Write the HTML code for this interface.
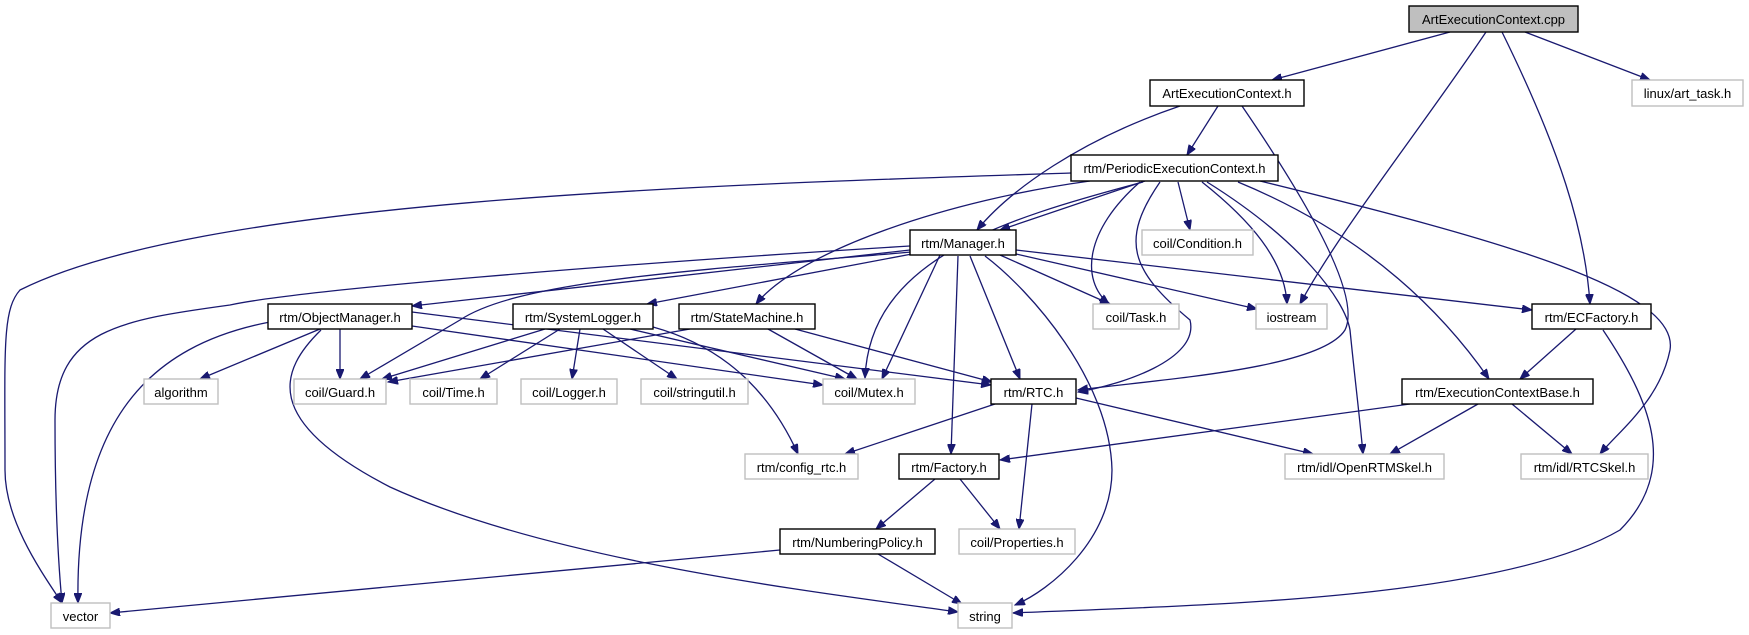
<!DOCTYPE html>
<html><head><meta charset="utf-8"><style>
html,body{margin:0;padding:0;background:#fff;}
svg{display:block;}
text{font-family:"Liberation Sans",Helvetica,Arial,sans-serif;font-size:13px;fill:#000;}
.b rect{fill:#fff;stroke:#000;stroke-width:1.4;}
.g rect{fill:#fff;stroke:#bfbfbf;stroke-width:1.4;}
path{fill:none;stroke:#191970;stroke-width:1.3;}
</style></head><body>
<svg width="1749" height="635" viewBox="0 0 1749 635" xmlns="http://www.w3.org/2000/svg">
<defs>
<marker id="a" markerWidth="11" markerHeight="8" refX="10" refY="4" orient="auto" markerUnits="userSpaceOnUse">
<path d="M0,0 L10,4 L0,8 Z" style="fill:#191970;stroke:#191970;stroke-width:1"/>
</marker>
</defs>
<g marker-end="url(#a)">
<!-- cpp -->
<path d="M1450,32 L1272,80"/>
<path d="M1486,32 C1420,130 1340,230 1300,304"/>
<path d="M1502,32 C1560,150 1585,230 1590,304"/>
<path d="M1525,32 L1650,80"/>
<!-- AEC.h -->
<path d="M1180,106 C1080,140 1010,190 977,230"/>
<path d="M1218,106 L1187,155"/>
<path d="M1242,106 C1320,220 1360,300 1345,330 C1320,370 1150,380 1078,390"/>
<!-- PEC -->
<path d="M1071,173 C700,185 200,200 20,290 C2,310 5,350 5,470 C5,520 40,570 62,603"/>
<path d="M1145,181 L1000,230"/>
<path d="M1090,181 C950,200 800,250 756,304"/>
<path d="M1143,182 C1000,220 870,260 865,378"/>
<path d="M1140,182 C1085,230 1080,280 1109,304"/>
<path d="M1160,182 C1120,240 1130,270 1190,320 C1200,360 1120,385 1078,392"/>
<path d="M1178,182 L1190,230"/>
<path d="M1202,182 C1250,220 1285,260 1287,304"/>
<path d="M1207,182 C1300,240 1345,300 1350,330 C1355,380 1360,420 1363,454"/>
<path d="M1238,182 C1330,220 1420,280 1489,379"/>
<path d="M1260,181 C1500,240 1680,290 1670,350 C1660,400 1620,430 1600,454"/>
<!-- Manager -->
<path d="M910,246 C600,265 300,290 230,305 C120,320 55,330 55,420 C55,500 58,560 62,603"/>
<path d="M910,250 L412,306"/>
<path d="M912,254 L647,304"/>
<path d="M912,252 C700,270 520,280 460,320 L360,379"/>
<path d="M940,255 L882,379"/>
<path d="M958,256 L951,454"/>
<path d="M970,256 L1020,379"/>
<path d="M985,256 C1030,290 1110,380 1112,470 C1112,540 1050,590 1015,605"/>
<path d="M1000,255 L1110,304"/>
<path d="M1016,254 L1257,309"/>
<path d="M1016,250 L1532,310"/>
<!-- ObjectManager -->
<path d="M320,329 L200,379"/>
<path d="M340,329 L340,379"/>
<path d="M270,322 C150,345 75,420 78,603"/>
<path d="M321,330 C280,370 260,420 390,487 C550,560 800,590 958,612"/>
<path d="M412,326 L823,385"/>
<path d="M412,312 L991,385"/>
<!-- SystemLogger -->
<path d="M545,329 L382,379"/>
<path d="M560,329 L480,379"/>
<path d="M580,329 L572,379"/>
<path d="M603,329 L677,379"/>
<path d="M630,329 L845,379"/>
<path d="M653,327 C700,340 760,370 798,454"/>
<!-- StateMachine -->
<path d="M690,329 L388,382"/>
<path d="M768,329 L857,379"/>
<path d="M795,329 L992,382"/>
<!-- RTC -->
<path d="M995,404 L845,454"/>
<path d="M1032,404 L1019,529"/>
<path d="M1076,398 L1313,454"/>
<!-- ECFactory -->
<path d="M1576,329 L1520,379"/>
<path d="M1603,330 C1650,400 1680,470 1620,530 C1500,600 1200,605 1013,613"/>
<!-- ECBase -->
<path d="M1410,404 L1000,460"/>
<path d="M1478,404 L1390,454"/>
<path d="M1512,404 L1572,454"/>
<!-- Factory -->
<path d="M935,479 L876,529"/>
<path d="M960,479 L1000,529"/>
<!-- NumberingPolicy -->
<path d="M780,550 L110,613"/>
<path d="M878,554 L962,604"/>
</g>
<!-- nodes -->
<g text-anchor="middle">
<rect x="1409" y="6" width="169" height="26" style="fill:#bfbfbf;stroke:#000;stroke-width:1.4"/><text x="1493.5" y="24">ArtExecutionContext.cpp</text>
<g class="b">
<rect x="1150" y="80" width="154" height="26"/><text x="1227" y="98">ArtExecutionContext.h</text>
<rect x="1071" y="155" width="207" height="26"/><text x="1174.5" y="173">rtm/PeriodicExecutionContext.h</text>
<rect x="910" y="230" width="106" height="25"/><text x="963" y="248">rtm/Manager.h</text>
<rect x="1532" y="304" width="119" height="25"/><text x="1591.5" y="322">rtm/ECFactory.h</text>
<rect x="268" y="304" width="144" height="25"/><text x="340" y="322">rtm/ObjectManager.h</text>
<rect x="513" y="304" width="140" height="25"/><text x="583" y="322">rtm/SystemLogger.h</text>
<rect x="679" y="304" width="136" height="25"/><text x="747" y="322">rtm/StateMachine.h</text>
<rect x="991" y="379" width="85" height="25"/><text x="1033.5" y="397">rtm/RTC.h</text>
<rect x="1402" y="379" width="191" height="25"/><text x="1497.5" y="397">rtm/ExecutionContextBase.h</text>
<rect x="899" y="454" width="100" height="25"/><text x="949" y="472">rtm/Factory.h</text>
<rect x="780" y="529" width="155" height="25"/><text x="857.5" y="547">rtm/NumberingPolicy.h</text>
</g>
<g class="g">
<rect x="1632" y="80" width="111" height="26"/><text x="1687.5" y="98">linux/art_task.h</text>
<rect x="1142" y="230" width="111" height="25"/><text x="1197.5" y="248">coil/Condition.h</text>
<rect x="1093" y="304" width="86" height="25"/><text x="1136" y="322">coil/Task.h</text>
<rect x="1256" y="304" width="71" height="25"/><text x="1291.5" y="322">iostream</text>
<rect x="144" y="379" width="74" height="25"/><text x="181" y="397">algorithm</text>
<rect x="294" y="379" width="92" height="25"/><text x="340" y="397">coil/Guard.h</text>
<rect x="410" y="379" width="87" height="25"/><text x="453.5" y="397">coil/Time.h</text>
<rect x="521" y="379" width="96" height="25"/><text x="569" y="397">coil/Logger.h</text>
<rect x="641" y="379" width="107" height="25"/><text x="694.5" y="397">coil/stringutil.h</text>
<rect x="823" y="379" width="92" height="25"/><text x="869" y="397">coil/Mutex.h</text>
<rect x="745" y="454" width="113" height="25"/><text x="801.5" y="472">rtm/config_rtc.h</text>
<rect x="1285" y="454" width="159" height="25"/><text x="1364.5" y="472">rtm/idl/OpenRTMSkel.h</text>
<rect x="1521" y="454" width="127" height="25"/><text x="1584.5" y="472">rtm/idl/RTCSkel.h</text>
<rect x="959" y="529" width="116" height="25"/><text x="1017" y="547">coil/Properties.h</text>
<rect x="51" y="603" width="59" height="25"/><text x="80.5" y="621">vector</text>
<rect x="958" y="603" width="54" height="25"/><text x="985" y="621">string</text>
</g>
</g>
</svg>
</body></html>
